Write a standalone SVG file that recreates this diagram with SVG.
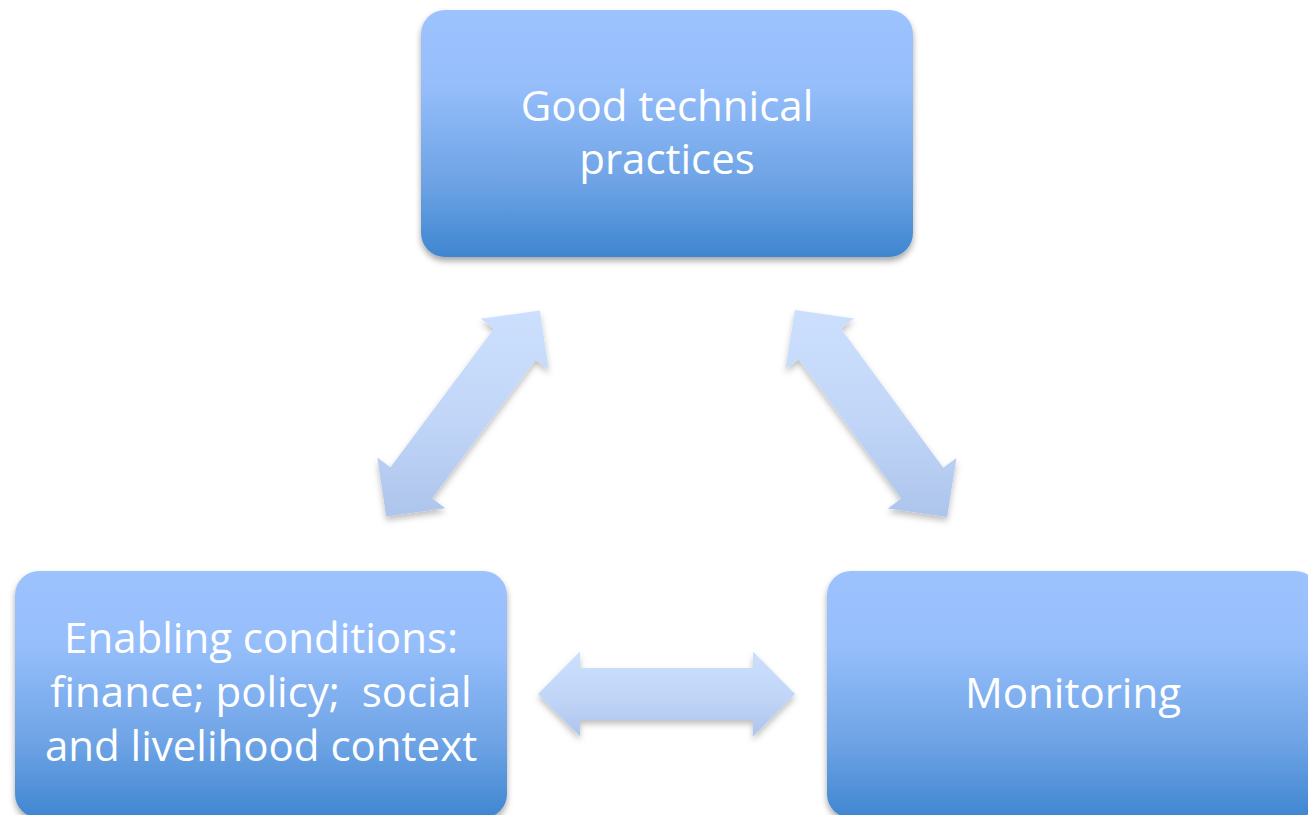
<svg xmlns="http://www.w3.org/2000/svg" width="1308" height="815" viewBox="0 0 1308 815">
  <defs>
    <linearGradient id="boxGrad" x1="0" y1="0" x2="0" y2="1">
      <stop offset="0" stop-color="#9DC3FE"/>
      <stop offset="0.3" stop-color="#96BEFB"/>
      <stop offset="0.7" stop-color="#6DA3E5"/>
      <stop offset="1" stop-color="#3F86D0"/>
    </linearGradient>
    <linearGradient id="arrowGrad" x1="0" y1="0" x2="0" y2="1">
      <stop offset="0" stop-color="#CCDFFD"/>
      <stop offset="0.5" stop-color="#C2D7F8"/>
      <stop offset="1" stop-color="#ADC4EC"/>
    </linearGradient>
    <filter id="boxShadow" x="-10%" y="-10%" width="120%" height="130%">
      <feDropShadow dx="0" dy="4" stdDeviation="3" flood-color="#000" flood-opacity="0.35"/>
    </filter>
    <filter id="arrowShadow" x="-20%" y="-20%" width="140%" height="140%">
      <feDropShadow dx="0" dy="4" stdDeviation="3" flood-color="#000" flood-opacity="0.25"/>
    </filter>
    <style>
      .box { fill: url(#boxGrad); filter: url(#boxShadow); }
      .arrow { fill: url(#arrowGrad); filter: url(#arrowShadow); }
      .label { font-family: "Open Sans", "Liberation Sans", sans-serif; font-size: 42px; fill: #FFFFFF; text-anchor: middle; }
    </style>
  </defs>
  <rect width="1308" height="815" fill="#FFFFFF"/>

  <g id="connectors">
    <path class="arrow" d="M386.2,516.4 L377.3,457.4 L390.5,467.3 L493.9,328.7 L480.7,318.8 L539.8,310.6 L548.7,369.6 L535.5,359.7 L432.1,498.3 L445.3,508.2 Z"/>
    <path class="arrow" d="M794.9,309.9 L854.1,318.6 L840.8,328.4 L943.2,467.8 L956.5,458.0 L947.1,517.1 L887.9,508.4 L901.2,498.6 L798.8,359.2 L785.5,369.0 Z"/>
    <path class="arrow" d="M538,694 L580,651.5 L580,668 L753,668 L753,651.5 L795,694 L753,736.5 L753,720 L580,720 L580,736.5 Z"/>
  </g>

  <g id="node-practices">
    <rect class="box" x="421" y="10" width="492" height="247" rx="24" ry="24"/>
    <text class="label" x="667" y="121">Good technical</text>
    <text class="label" x="667" y="174">practices</text>
  </g>

  <g id="node-enabling">
    <rect class="box" x="15" y="571" width="492" height="247" rx="24" ry="24"/>
    <text class="label" x="261" y="653">Enabling conditions:</text>
    <text class="label" x="261" y="707" xml:space="preserve">finance; policy;  social</text>
    <text class="label" x="261" y="761">and livelihood context</text>
  </g>

  <g id="node-monitoring">
    <rect class="box" x="827" y="571" width="492" height="247" rx="24" ry="24"/>
    <text class="label" x="1073" y="708">Monitoring</text>
  </g>
</svg>
